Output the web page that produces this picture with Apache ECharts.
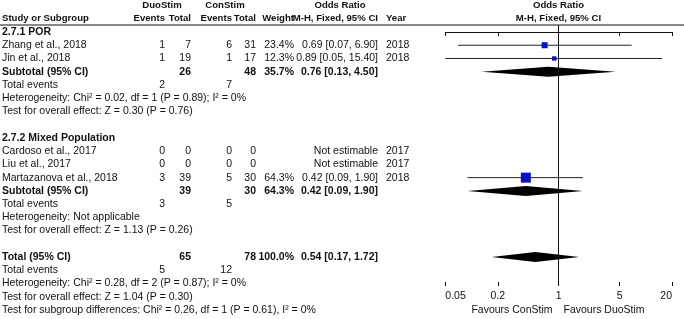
<!DOCTYPE html>
<html>
<head>
<meta charset="utf-8">
<script src="https://cdn.jsdelivr.net/npm/echarts@6/dist/echarts.min.js"></script>
<style>
html, body { margin: 0; padding: 0; background: #fff; }
#main { width: 684px; height: 319px; }
</style>
</head>
<body>
<div id="main"></div>
<script>
// 2.7.1 POR
const porStudies = ['Zhang et al., 2018', 'Jin et al., 2018'];
const porDuoEvents = [1, 1];
const porDuoTotal = [7, 19];
const porConEvents = [6, 1];
const porConTotal = [31, 17];
const porWeight = [23.4, 12.3];
const porOR = [0.69, 0.89];
const porLow = [0.07, 0.05];
const porHigh = [6.90, 15.40];
const porYear = [2018, 2018];

// 2.7.2 Mixed Population
const mixStudies = ['Cardoso et al., 2017', 'Liu et al., 2017', 'Martazanova et al., 2018'];
const mixDuoEvents = [0, 0, 3];
const mixDuoTotal = [0, 0, 39];
const mixConEvents = [0, 0, 5];
const mixConTotal = [0, 0, 30];
const mixWeight = [null, null, 64.3];
const mixOR = [null, null, 0.42];
const mixLow = [null, null, 0.09];
const mixHigh = [null, null, 1.90];
const mixYear = [2017, 2017, 2018];

// pooled rows: POR subtotal, Mixed subtotal, overall total
const pooledLabel = ['Subtotal (95% CI)', 'Subtotal (95% CI)', 'Total (95% CI)'];
const pooledDuoTotal = [26, 39, 65];
const pooledConTotal = [48, 30, 78];
const pooledWeight = [35.7, 64.3, 100.0];
const pooledOR = [0.76, 0.42, 0.54];
const pooledLow = [0.13, 0.09, 0.17];
const pooledHigh = [4.50, 1.90, 1.72];
const totalDuoEvents = [2, 3, 5];
const totalConEvents = [7, 5, 12];
const hetText = [
    'Heterogeneity: Chi\u00b2 = 0.02, df = 1 (P = 0.89); I\u00b2 = 0%',
    'Heterogeneity: Not applicable',
    'Heterogeneity: Chi\u00b2 = 0.28, df = 2 (P = 0.87); I\u00b2 = 0%'
];
const effectText = [
    'Test for overall effect: Z = 0.30 (P = 0.76)',
    'Test for overall effect: Z = 1.13 (P = 0.26)',
    'Test for overall effect: Z = 1.04 (P = 0.30)'
];
const subgroupText = 'Test for subgroup differences: Chi\u00b2 = 0.26, df = 1 (P = 0.61), I\u00b2 = 0%';
const groupTitles = ['2.7.1 POR', '2.7.2 Mixed Population'];

const axisTicks = [0.05, 0.2, 1, 5, 20];
const favours = ['Favours ConStim', 'Favours DuoStim'];

// layout
const ROW0 = 32, ROWH = 13.24;
const PLOT_TOP = 25, PLOT_BOTTOM = 286;
const FONT = '"Liberation Sans", Arial, sans-serif';
const FS = 10.5;
const HEAD_FS = 9.6;
const INK = '#111';
const col = { study: 2, duoEv: 165, duoTot: 191, conEv: 232, conTot: 256, weight: 294, or: 378, year: 386, plotMid: 558.5 };

const cells = [];
const marks = [];
function cell(x, row, text, bold, align, size) {
    cells.push({ x: x, row: row, text: String(text), bold: !!bold, align: align || 'right', size: size || FS });
}
function head(x, row, text, align) {
    cell(x, row, text, true, align, HEAD_FS);
}
function orText(o, l, h) {
    return o.toFixed(2) + ' [' + l.toFixed(2) + ', ' + h.toFixed(2) + ']';
}

// headers
head(162, -2, 'DuoStim', 'center');
head(225, -2, 'ConStim', 'center');
head(340, -2, 'Odds Ratio', 'center');
head(col.plotMid, -2, 'Odds Ratio', 'center');
head(col.study, -1, 'Study or Subgroup', 'left');
head(col.duoEv, -1, 'Events');
head(col.duoTot, -1, 'Total');
head(col.conEv, -1, 'Events');
head(col.conTot, -1, 'Total');
head(col.weight, -1, 'Weight');
head(col.or, -1, 'M-H, Fixed, 95% CI');
head(col.year, -1, 'Year', 'left');
head(col.plotMid, -1, 'M-H, Fixed, 95% CI', 'center');

function addGroup(g, startRow, studies, dEv, dTot, cEv, cTot, w, o, lo, hi, yr) {
    let r = startRow;
    cell(col.study, r++, groupTitles[g], true, 'left');
    studies.forEach(function (s, i) {
        cell(col.study, r, s, false, 'left');
        cell(col.duoEv, r, dEv[i]);
        cell(col.duoTot, r, dTot[i]);
        cell(col.conEv, r, cEv[i]);
        cell(col.conTot, r, cTot[i]);
        if (o[i] == null) {
            cell(col.or, r, 'Not estimable');
        } else {
            cell(col.weight, r, w[i].toFixed(1) + '%');
            cell(col.or, r, orText(o[i], lo[i], hi[i]));
            marks.push({ kind: 'study', row: r, or: o[i], lo: lo[i], hi: hi[i], w: w[i] });
        }
        cell(col.year, r, yr[i], false, 'left');
        r++;
    });
    return r;
}

function addPooled(p, r) {
    cell(col.study, r, pooledLabel[p], true, 'left');
    cell(col.duoTot, r, pooledDuoTotal[p], true);
    cell(col.conTot, r, pooledConTotal[p], true);
    cell(col.weight, r, pooledWeight[p].toFixed(1) + '%', true);
    cell(col.or, r, orText(pooledOR[p], pooledLow[p], pooledHigh[p]), true);
    marks.push({ kind: 'pooled', row: r, or: pooledOR[p], lo: pooledLow[p], hi: pooledHigh[p] });
    cell(col.study, r + 1, 'Total events', false, 'left');
    cell(col.duoEv, r + 1, totalDuoEvents[p]);
    cell(col.conEv, r + 1, totalConEvents[p]);
    cell(col.study, r + 2, hetText[p], false, 'left');
    cell(col.study, r + 3, effectText[p], false, 'left');
    return r + 4;
}

let row = addGroup(0, 0, porStudies, porDuoEvents, porDuoTotal, porConEvents, porConTotal, porWeight, porOR, porLow, porHigh, porYear);
row = addPooled(0, row);
row = addGroup(1, row + 1, mixStudies, mixDuoEvents, mixDuoTotal, mixConEvents, mixConTotal, mixWeight, mixOR, mixLow, mixHigh, mixYear);
row = addPooled(1, row);
row = addPooled(2, row + 1);
cell(col.study, row, subgroupText, false, 'left');
cell(col.plotMid - 6, row, favours[0], false, 'right');
cell(col.plotMid + 5, row, favours[1], false, 'left');

const maxW = Math.max.apply(null, marks.filter(m => m.kind === 'study').map(m => m.w));

const chart = echarts.init(document.getElementById('main'), null, { renderer: 'canvas' });
chart.setOption({
    animation: false,
    backgroundColor: '#fff',
    grid: [
        { left: 0, right: 0, top: ROW0 - 2 * ROWH, bottom: 319 - (ROW0 + 21 * ROWH) },
        { left: 445.3, right: 12, top: PLOT_TOP, bottom: 319 - PLOT_BOTTOM }
    ],
    xAxis: [
        { gridIndex: 0, type: 'value', min: 0, max: 684, show: false },
        {
            gridIndex: 1, type: 'log', logBase: 10, min: 0.05, max: 20, position: 'bottom',
            axisLine: { show: true, lineStyle: { color: INK, width: 1 } },
            axisTick: { show: true, customValues: axisTicks, length: 4, lineStyle: { color: INK } },
            axisLabel: {
                customValues: axisTicks, color: INK, fontSize: FS, fontFamily: FONT, margin: 5,
                alignMinLabel: 'left', alignMaxLabel: 'right',
                formatter: v => String(+v.toPrecision(3))
            },
            splitLine: { show: false }
        },
        {
            gridIndex: 1, type: 'log', logBase: 10, min: 0.05, max: 20, position: 'bottom',
            axisLine: { show: false },
            axisTick: { show: true, inside: true, customValues: axisTicks, length: 4, lineStyle: { color: INK } },
            axisLabel: { show: false },
            splitLine: { show: false }
        }
    ],
    yAxis: [
        { gridIndex: 0, type: 'value', inverse: true, min: -2, max: 21, show: false },
        {
            gridIndex: 1, type: 'value', inverse: true, show: false,
            min: (PLOT_TOP - ROW0) / ROWH, max: (PLOT_BOTTOM - ROW0) / ROWH
        }
    ],
    graphic: [{
        type: 'line', shape: { x1: 0, y1: PLOT_TOP, x2: 684, y2: PLOT_TOP },
        style: { stroke: INK, lineWidth: 1 }, silent: true
    }],
    series: [
        {
            type: 'custom', xAxisIndex: 0, yAxisIndex: 0, silent: true,
            data: cells.map(c => [c.x, c.row]),
            renderItem: function (params, api) {
                const c = cells[params.dataIndex];
                const p = api.coord([c.x, c.row]);
                return {
                    type: 'text', x: p[0], y: p[1],
                    style: {
                        text: c.text, fill: INK,
                        font: (c.bold ? 'bold ' : '') + c.size + 'px ' + FONT,
                        textAlign: c.align, textVerticalAlign: 'middle'
                    }
                };
            }
        },
        {
            type: 'custom', xAxisIndex: 1, yAxisIndex: 1, silent: true, clip: false,
            data: marks.map(m => [m.or, m.row, m.lo, m.hi]),
            renderItem: function (params, api) {
                const m = marks[params.dataIndex];
                const c = api.coord([m.or, m.row]);
                const l = api.coord([m.lo, m.row]);
                const h = api.coord([m.hi, m.row]);
                if (m.kind === 'pooled') {
                    return {
                        type: 'polygon',
                        shape: { points: [[l[0], c[1]], [c[0], c[1] - 5], [h[0], c[1]], [c[0], c[1] + 5]] },
                        style: { fill: '#000' }
                    };
                }
                const s = 10 * Math.sqrt(m.w / maxW);
                return {
                    type: 'group',
                    children: [
                        { type: 'line', shape: { x1: l[0], y1: c[1], x2: h[0], y2: c[1] }, style: { stroke: '#222', lineWidth: 1 } },
                        { type: 'rect', shape: { x: c[0] - s / 2, y: c[1] - s / 2, width: s, height: s }, style: { fill: '#0a10c4' } }
                    ]
                };
            },
            markLine: {
                silent: true, symbol: ['none', 'none'], label: { show: false },
                lineStyle: { color: INK, width: 1, type: 'solid' },
                data: [{ xAxis: 1 }]
            }
        }
    ]
});
</script>
</body>
</html>
